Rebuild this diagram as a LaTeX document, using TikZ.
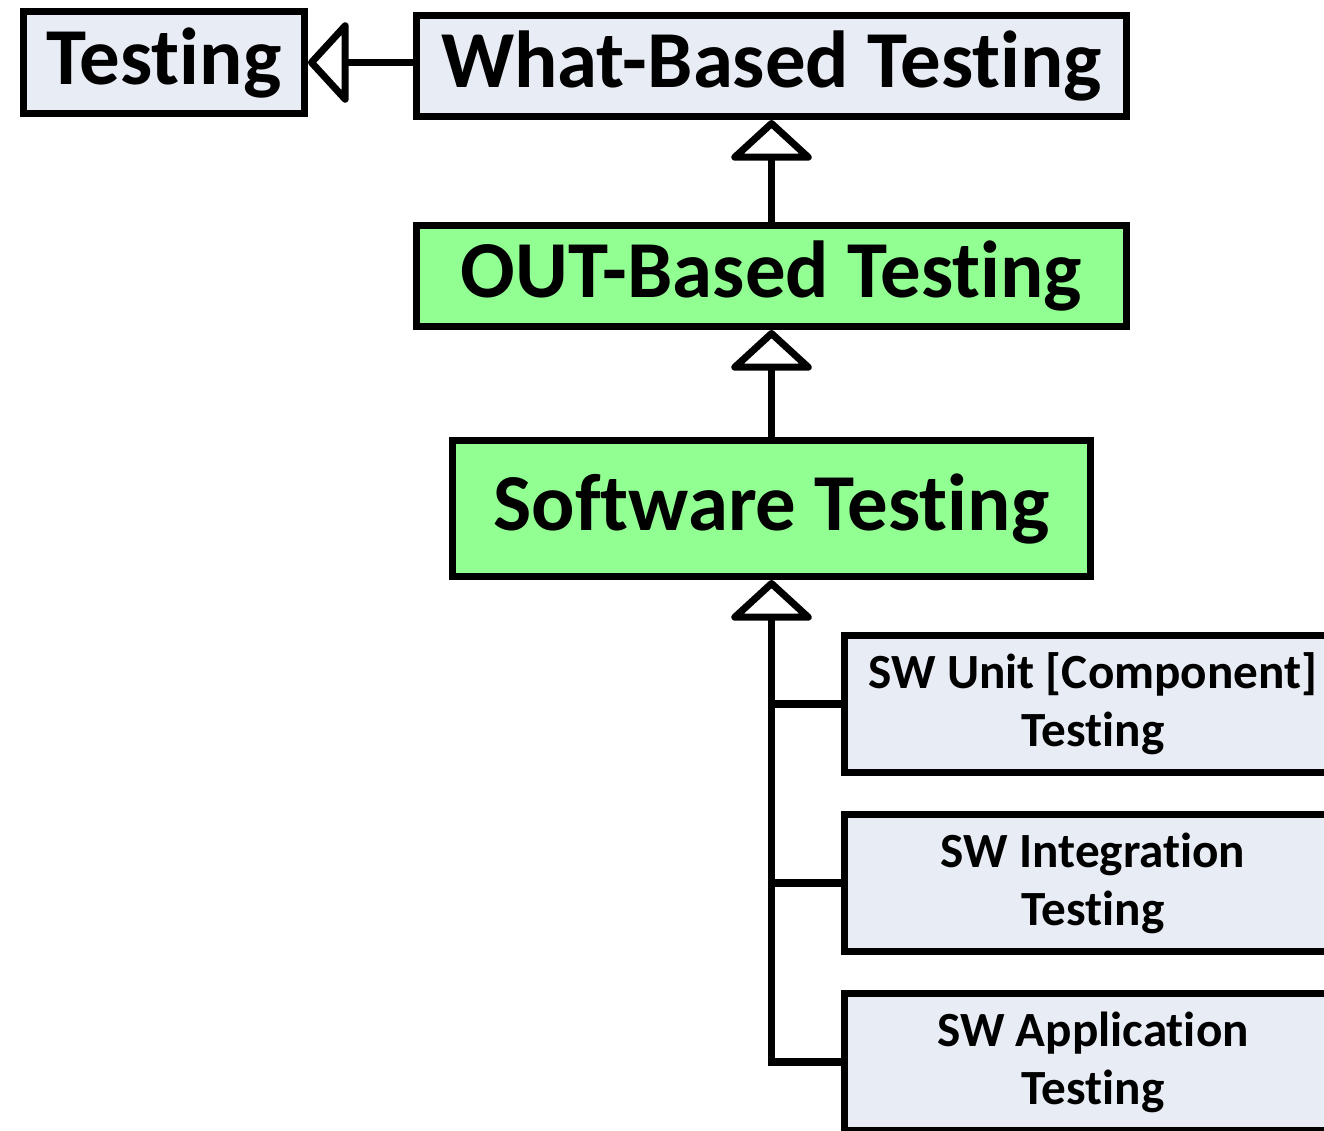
\documentclass[tikz,border=0pt]{standalone}
\usepackage{fontspec}
\setmainfont{Carlito}[Ligatures=NoCommon]
\usetikzlibrary{arrows.meta,positioning}
\definecolor{boxgray}{RGB}{232,236,244}
\definecolor{boxgreen}{RGB}{146,255,146}
\newcommand{\Testing}{Test\kern0pt ing}

\begin{document}
\begin{tikzpicture}[x=0.02cm,y=-0.02cm, %one unit is one pixel
    plain/.style={draw,line width=4pt,fill=boxgray,inner sep=0pt,align=center},
    hot/.style={plain,fill=boxgreen},
    big/.style={font=\bfseries\fontsize{46}{50}\selectfont},
    small/.style={font=\bfseries\fontsize{28}{33}\selectfont},
    link/.style={line width=4pt},
    gen/.style={link,-{Triangle[open,round,length=0.84cm,width=1.8cm]}}]
    \useasboundingbox (0,0) rectangle (1324,1131);
    \clip (0,0) rectangle (1324,1131);
%the kinds of testing
    \node[plain,big,minimum width=5.62cm,minimum height=2.04cm] (test) at (164,62.5) {\Testing};
    \node[plain,big,minimum width=14.2cm,minimum height=2.02cm] (what) at (771.5,66) {What-Based \Testing};
    \node[hot,big,minimum width=14.2cm,minimum height=2.02cm] (out) at (771.5,276) {OUT-Based \Testing};
    \node[hot,big,minimum width=12.76cm,minimum height=2.72cm] (sw) at (771.5,508.5) {Software \Testing};
%the levels
    \node[plain,small,minimum width=9.94cm,minimum height=2.74cm] (unit) at (1093,704) {SW Unit [Component]\\\Testing};
    \node[plain,small,minimum width=9.94cm,minimum height=2.74cm] (integ) at (1093,883) {SW Integration\\\Testing};
    \node[plain,small,minimum width=9.94cm,minimum height=2.74cm] (app) at (1093,1062) {SW Application\\\Testing};
%the generalisations
    \draw[gen] (what.west |- test.east) -- (test.east);
    \draw[gen] (out.north) -- (what.south);
    \draw[gen] (sw.north) -- (out.south);
    \draw[gen] (app.west) -| (sw.south);
    \draw[link] (unit.west) -- (unit.west -| sw.south);
    \draw[link] (integ.west) -- (integ.west -| sw.south);
\end{tikzpicture}
\end{document}
